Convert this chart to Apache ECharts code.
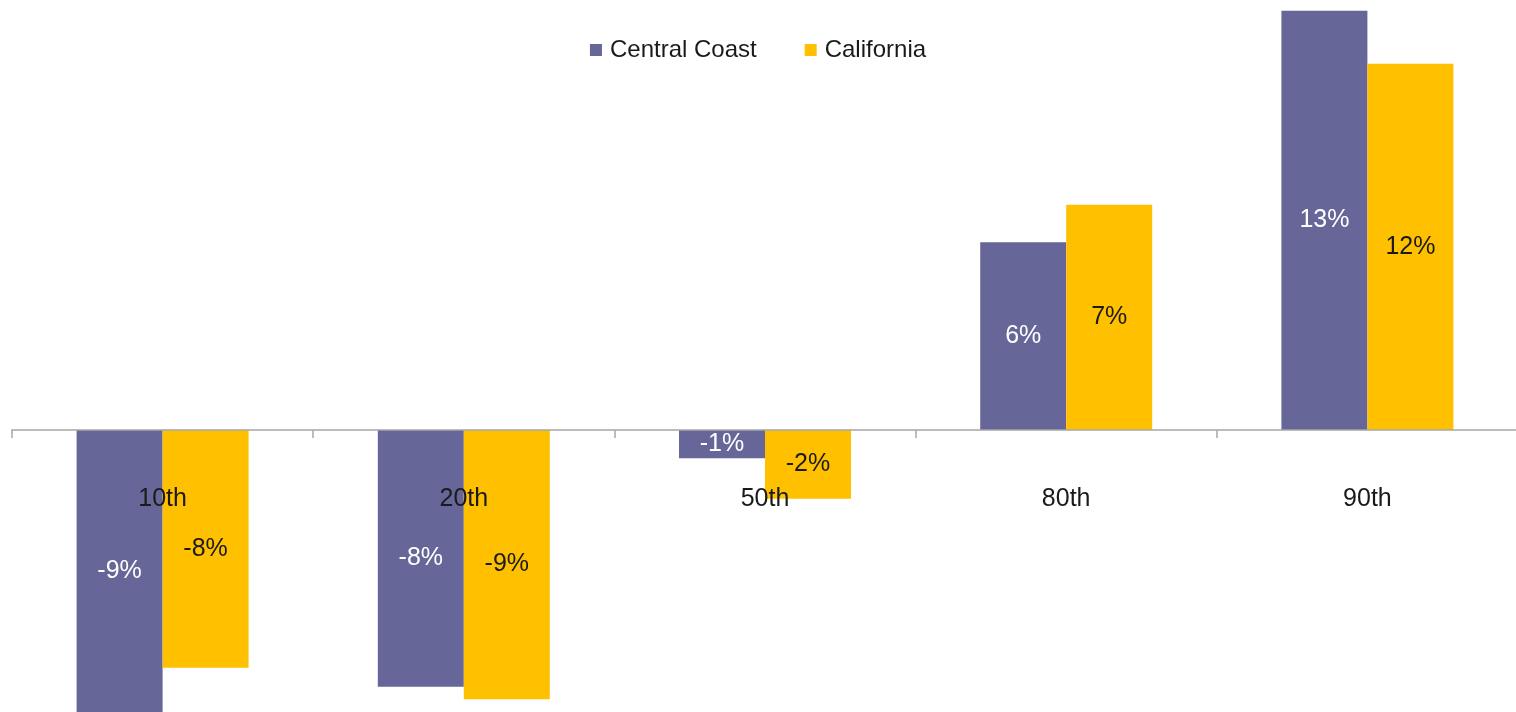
<!DOCTYPE html>
<html>
<head>
<meta charset="utf-8">
<style>
  html, body { margin: 0; padding: 0; background: #ffffff; }
  #chart { width: 1516px; height: 712px; }
</style>
<script src="https://cdn.jsdelivr.net/npm/echarts@6/dist/echarts.min.js"></script>
</head>
<body>
<div id="chart"></div>
<script>
// Percentile categories and change (%) for each region
const categories = ['10th', '20th', '50th', '80th', '90th'];
const centralCoast = [-9.1, -8.2, -0.9, 6.0, 13.4];
const california = [-7.6, -8.6, -2.2, 7.2, 11.7];
const seriesNames = ['Central Coast', 'California'];

const FONT = '"Liberation Sans", Arial, sans-serif';
const pct = p => Math.round(p.value) + '%';

const chart = echarts.init(document.getElementById('chart'), null, { renderer: 'canvas' });

chart.setOption({
  animation: false,
  backgroundColor: '#ffffff',
  legend: {
    top: 33,
    left: 'center',
    icon: 'rect',
    itemWidth: 12,
    itemHeight: 12,
    itemGap: 48,
    textStyle: { fontFamily: FONT, fontSize: 24, color: '#1a1a1a', padding: [0, 0, 0, 3] },
    data: seriesNames
  },
  grid: { left: 12, right: -2, top: 0, bottom: 0, containLabel: false, outerBoundsMode: 'none' },
  xAxis: {
    type: 'category',
    data: categories,
    z: 10,
    axisLine: { onZero: true, lineStyle: { color: '#a6a6a6', width: 1.5 } },
    axisTick: { show: true, length: 8, lineStyle: { color: '#a6a6a6', width: 1.5 } },
    // labels are pulled up from the grid's lower edge to sit just below the zero line
    axisLabel: { margin: -225, fontFamily: FONT, fontSize: 25, color: '#1a1a1a' }
  },
  yAxis: {
    type: 'value',
    min: -9.01,
    max: 13.74,
    show: false,
    splitLine: { show: false }
  },
  series: [
    {
      name: seriesNames[0],
      type: 'bar',
      data: centralCoast,
      barWidth: 86,
      barGap: '0%',
      itemStyle: { color: '#666699' },
      label: { show: true, position: 'inside', formatter: pct, fontFamily: FONT, fontSize: 25, color: '#ffffff' }
    },
    {
      name: seriesNames[1],
      type: 'bar',
      data: california,
      barWidth: 86,
      barGap: '0%',
      itemStyle: { color: '#ffc000' },
      label: { show: true, position: 'inside', formatter: pct, fontFamily: FONT, fontSize: 25, color: '#1a1a1a' }
    }
  ]
});
</script>
</body>
</html>
